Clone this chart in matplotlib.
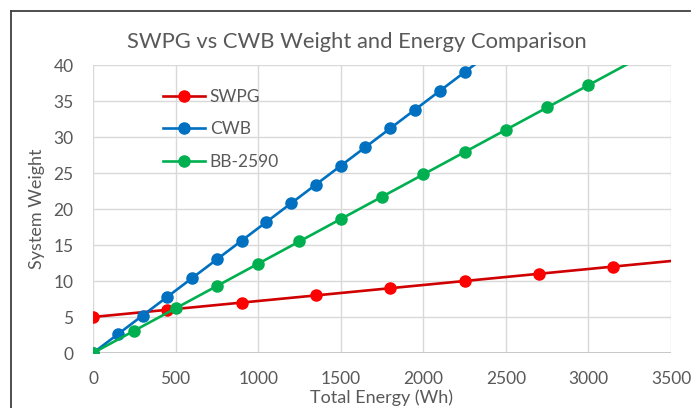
import matplotlib
matplotlib.use("Agg")
import matplotlib.pyplot as plt
from matplotlib.lines import Line2D

plt.rcParams['font.family'] = ['Lato', 'DejaVu Sans']

# SWPG: one marker every 450 Wh
swpg_energy = [0, 450, 900, 1350, 1800, 2250, 2700, 3150, 3600]
swpg_weight = [5, 6, 7, 8, 9, 10, 11, 12, 13]

# CWB: one marker every 150 Wh
cwb_energy = [0, 150, 300, 450, 600, 750, 900, 1050, 1200, 1350, 1500,
              1650, 1800, 1950, 2100, 2250, 2400]
cwb_weight = [0, 2.6, 5.2, 7.8, 10.4, 13.0, 15.6, 18.2, 20.8, 23.4, 26.0,
              28.6, 31.2, 33.8, 36.4, 39.0, 41.6]

# BB-2590: one marker every 250 Wh, last point runs off the top
bb_energy = [0, 250, 500, 750, 1000, 1250, 1500, 1750, 2000, 2250, 2500,
             2750, 3000, 3500]
bb_weight = [0, 3.1, 6.2, 9.3, 12.4, 15.5, 18.6, 21.7, 24.8, 27.9, 31.0,
             34.1, 37.2, 43.4]

x_ticks = [0, 500, 1000, 1500, 2000, 2500, 3000, 3500]
y_ticks = [0, 5, 10, 15, 20, 25, 30, 35, 40]

text_col = '#595959'
grid_col = '#D9D9D9'

fig = plt.figure(figsize=(6.95, 4.08), dpi=100)
ax = fig.add_axes([93 / 695, 1 - 353 / 408, 578 / 695, 288 / 408])

ax.plot(swpg_energy, swpg_weight, color='#D00000', lw=1.9, marker='o',
        ms=8, mfc='#FF0000', mec='#FF0000', label='SWPG', zorder=3)
ax.plot(cwb_energy, cwb_weight, color='#0070C0', lw=1.9, marker='o',
        ms=8, mfc='#0070C0', mec='#0070C0', label='CWB', zorder=4)
ax.plot(bb_energy, bb_weight, color='#00B050', lw=1.9, marker='o',
        ms=8, mfc='#00B050', mec='#00B050', label='BB-2590', zorder=5,
        markevery=list(range(len(bb_energy) - 1)))

ax.set_xlim(0, 3500)
ax.set_ylim(0, 40)
ax.set_xticks(x_ticks)
ax.set_yticks(y_ticks)
ax.grid(True, color=grid_col, lw=1.0, zorder=0)
ax.set_axisbelow(True)
for s in ax.spines.values():
    s.set_visible(False)
ax.axhline(0, color='#BFBFBF', lw=1.2, zorder=1)
ax.tick_params(length=0, labelsize=12.5, labelcolor=text_col, pad=14)
ax.tick_params(axis='x', pad=13)

ax.set_xlabel('Total Energy (Wh)', fontsize=13, color=text_col, labelpad=2)
ax.set_ylabel('System Weight', fontsize=13, color=text_col, labelpad=6)
fig.text(357 / 695, 1 - 42 / 408, 'SWPG vs CWB Weight and Energy Comparison',
         ha='center', va='center', fontsize=15.8, color=text_col)

leg = ax.legend(loc='upper left', bbox_to_anchor=(0.121, 0.918), frameon=False,
                fontsize=12.5, handlelength=2.4, handletextpad=0.3,
                labelspacing=0.95, borderpad=0, borderaxespad=0)
for t in leg.get_texts():
    t.set_color(text_col)

# border of the pasted chart (top and left edges)
fig.add_artist(Line2D([11 / 695, 690 / 695], [1 - 11 / 408, 1 - 11 / 408],
                      color='#404040', lw=1.3))
fig.add_artist(Line2D([11 / 695, 11 / 695], [1 - 11 / 408, 0],
                      color='#404040', lw=1.3))

fig.savefig('out.png', dpi=100)
